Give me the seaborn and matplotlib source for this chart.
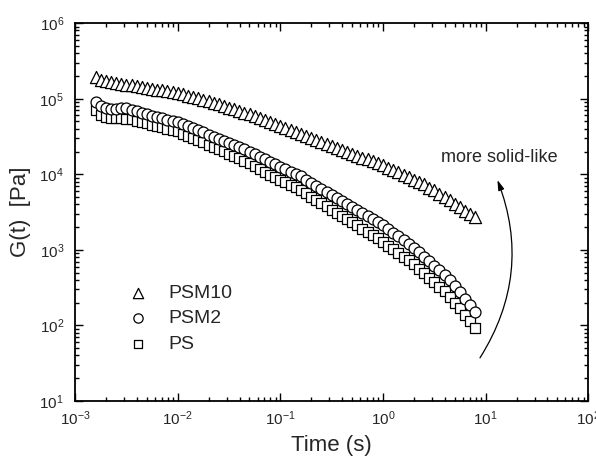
import numpy as np
import pandas as pd
import matplotlib
matplotlib.use("Agg")
import matplotlib.pyplot as plt
import seaborn as sns
from matplotlib.ticker import LogLocator, FuncFormatter, NullFormatter

# relaxation times (s), 20 points per decade
time_s = [0.001585, 0.001778, 0.001995, 0.002239, 0.002512, 0.002818, 0.003162, 0.003548,
          0.003981, 0.004467, 0.005012, 0.005623, 0.006310, 0.007079, 0.007943, 0.008913,
          0.01000, 0.01122, 0.01259, 0.01413, 0.01585, 0.01778, 0.01995, 0.02239, 0.02512,
          0.02818, 0.03162, 0.03548, 0.03981, 0.04467, 0.05012, 0.05623, 0.06310, 0.07079,
          0.07943, 0.08913,
          0.1000, 0.1122, 0.1259, 0.1413, 0.1585, 0.1778, 0.1995, 0.2239, 0.2512, 0.2818,
          0.3162, 0.3548, 0.3981, 0.4467, 0.5012, 0.5623, 0.6310, 0.7079, 0.7943, 0.8913,
          1.000, 1.122, 1.259, 1.413, 1.585, 1.778, 1.995, 2.239, 2.512, 2.818, 3.162,
          3.548, 3.981, 4.467, 5.012, 5.623, 6.310, 7.079, 7.943]

# G(t) in Pa
g_psm10 = [1.95e5, 1.76e5, 1.71e5, 1.65e5, 1.61e5, 1.58e5, 1.54e5, 1.50e5, 1.47e5, 1.44e5,
           1.40e5, 1.36e5, 1.32e5, 1.29e5, 1.25e5, 1.22e5,
           1.18e5, 1.14e5, 1.09e5, 1.05e5, 1.01e5, 9.70e4, 9.27e4, 8.81e4, 8.39e4, 7.98e4,
           7.60e4, 7.23e4, 6.87e4, 6.53e4, 6.22e4, 5.92e4, 5.56e4, 5.22e4, 4.91e4, 4.61e4,
           4.34e4, 4.07e4, 3.82e4, 3.59e4, 3.37e4, 3.17e4, 3.00e4, 2.84e4, 2.69e4, 2.55e4,
           2.39e4, 2.24e4, 2.11e4, 1.98e4, 1.86e4, 1.76e4, 1.66e4, 1.57e4, 1.49e4, 1.40e4,
           1.31e4, 1.22e4, 1.14e4, 1.06e4, 9.89e3, 9.16e3, 8.49e3, 7.89e3, 7.33e3, 6.68e3,
           6.10e3, 5.55e3, 5.00e3, 4.51e3, 4.06e3, 3.66e3, 3.30e3, 2.98e3, 2.70e3]

g_psm2 = [9.02e4, 8.04e4, 7.55e4, 7.38e4, 7.35e4, 7.45e4, 7.45e4, 7.16e4, 6.84e4, 6.55e4,
          6.25e4, 5.98e4, 5.71e4, 5.50e4, 5.28e4, 5.07e4,
          4.88e4, 4.58e4, 4.31e4, 4.05e4, 3.81e4, 3.58e4, 3.36e4, 3.16e4, 2.97e4, 2.79e4,
          2.62e4, 2.46e4, 2.31e4, 2.15e4, 1.99e4, 1.84e4, 1.70e4, 1.57e4, 1.45e4, 1.35e4,
          1.25e4, 1.16e4, 1.08e4, 1.007e4, 9.35e3, 8.51e3, 7.74e3, 7.06e3, 6.43e3, 5.85e3,
          5.32e3, 4.85e3, 4.44e3, 4.06e3, 3.71e3, 3.39e3, 3.10e3, 2.83e3, 2.59e3, 2.37e3,
          2.12e3, 1.90e3, 1.69e3, 1.51e3, 1.35e3, 1.21e3, 1.07e3, 933, 813, 708,
          617, 537, 468, 398, 331, 275, 226, 184, 150]

g_ps = [7.06e4, 6.03e4, 5.66e4, 5.53e4, 5.51e4, 5.52e4, 5.46e4, 5.31e4, 5.13e4, 4.97e4,
        4.74e4, 4.54e4, 4.34e4, 4.17e4, 4.01e4, 3.85e4,
        3.70e4, 3.46e4, 3.23e4, 3.02e4, 2.82e4, 2.64e4, 2.47e4, 2.30e4, 2.15e4, 2.01e4,
        1.87e4, 1.75e4, 1.63e4, 1.51e4, 1.39e4, 1.28e4, 1.17e4, 1.08e4, 9.93e3, 9.15e3,
        8.47e3, 7.83e3, 7.23e3, 6.69e3, 6.18e3, 5.59e3, 5.06e3, 4.59e3, 4.15e3, 3.75e3,
        3.40e3, 3.08e3, 2.80e3, 2.54e3, 2.31e3, 2.10e3, 1.91e3, 1.74e3, 1.58e3, 1.43e3,
        1.28e3, 1.14e3, 1.02e3, 912, 815, 726, 646, 562, 490, 427,
        372, 324, 282, 240, 200, 168, 138, 114, 92]

samples = ["PS", "PSM2", "PSM10"]
markers = {"PS": "s", "PSM2": "o", "PSM10": "^"}
sizes = {"PS": 50, "PSM2": 62, "PSM10": 76}

n = len(time_s)
df = pd.DataFrame({
    "time": time_s * 3,
    "G": g_ps + g_psm2 + g_psm10,
    "sample": ["PS"] * n + ["PSM2"] * n + ["PSM10"] * n,
})

sns.set_style("ticks")
plt.rcParams["font.family"] = ["Liberation Sans", "DejaVu Sans"]
plt.rcParams["mathtext.fontset"] = "custom"
plt.rcParams["mathtext.rm"] = "Liberation Sans"

fig = plt.figure(figsize=(5.96, 4.63), dpi=100)
ax = fig.add_axes([0.126, 0.134, 0.861, 0.816])

for name in samples:
    sub = df[df["sample"] == name]
    sns.scatterplot(data=sub, x="time", y="G", marker=markers[name], s=sizes[name],
                    color="white", edgecolor="black", linewidth=0.9, label=name,
                    ax=ax, zorder=3)

ax.set_xscale("log")
ax.set_yscale("log")
ax.set_xlim(1e-3, 1e2)
ax.set_ylim(1e1, 1e6)

fmt = FuncFormatter(lambda v, pos: r"$\mathregular{10^{%d}}$" % round(np.log10(v)))
for axis in (ax.xaxis, ax.yaxis):
    axis.set_major_locator(LogLocator(base=10, numticks=10))
    axis.set_minor_locator(LogLocator(base=10, subs=np.arange(2, 10), numticks=20))
    axis.set_major_formatter(fmt)
    axis.set_minor_formatter(NullFormatter())

ax.tick_params(which="both", direction="in", top=True, right=True, labelsize=11,
               width=1.0, color="black")
ax.tick_params(which="major", length=6)
ax.tick_params(which="minor", length=3)
ax.tick_params(axis="x", pad=6)
ax.tick_params(axis="y", pad=8)
for sp in ax.spines.values():
    sp.set_linewidth(1.3)
    sp.set_color("black")

ax.set_xlabel("Time (s)", fontsize=16, labelpad=5)
ax.set_ylabel("G(t)  [Pa]", fontsize=16, labelpad=6)

h, l = ax.get_legend_handles_labels()
lookup = dict(zip(l, h))
order = ["PSM10", "PSM2", "PS"]
ax.legend([lookup[k] for k in order], order, loc="upper left",
          bbox_to_anchor=(0.05, 0.355), frameon=False, fontsize=14,
          handletextpad=0.6, labelspacing=0.4, markerscale=0.85)

ax.text(0.826, 0.645, "more solid-like", transform=ax.transAxes,
        ha="center", va="center", fontsize=13)
ax.annotate("", xy=(0.823, 0.585), xytext=(0.789, 0.114),
            xycoords="axes fraction", textcoords="axes fraction",
            arrowprops=dict(arrowstyle="-|>,head_length=0.6,head_width=0.18",
                            connectionstyle="arc3,rad=0.25", color="black",
                            lw=0.9, shrinkA=0, shrinkB=0))

fig.savefig("out.png", dpi=100)
